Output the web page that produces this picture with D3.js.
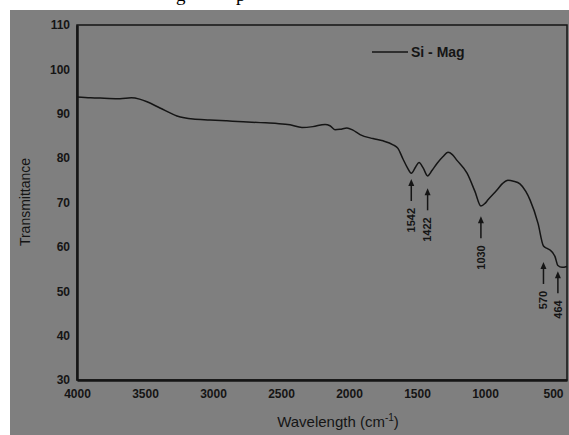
<!DOCTYPE html>
<html>
<head>
<meta charset="utf-8">
<script src="https://cdn.jsdelivr.net/npm/d3@7"></script>
<style>
  body { margin: 0; background: #fff; }
  svg { display: block; }
</style>
</head>
<body>
<svg id="chart" width="569" height="435"></svg>
<script>
// FTIR spectrum
const wavenumber = [4000, 3900, 3800, 3684, 3600, 3540, 3485, 3390, 3265, 3147, 3022, 2900, 2779, 2650,
  2529, 2434, 2346, 2265, 2176, 2140, 2103, 2066, 2015, 1971, 1919, 1824, 1750, 1676, 1640, 1603,
  1570, 1542, 1510, 1485, 1455, 1422, 1390, 1353, 1310, 1272, 1240, 1206, 1132, 1074, 1030, 1000,
  978, 912, 870, 831, 790, 743, 700, 669, 610, 570, 540, 522, 485, 464, 434, 397];
const transmittance = [93.8, 93.6, 93.5, 93.4, 93.6, 93.3, 92.7, 91.3, 89.5, 88.8, 88.6, 88.4, 88.2, 88.0,
  87.8, 87.5, 86.9, 87.1, 87.6, 87.3, 86.4, 86.5, 86.8, 86.3, 85.3, 84.4, 83.9, 83.0, 82.2, 79.8,
  77.8, 76.6, 78.0, 79.0, 77.8, 76.0, 77.2, 78.8, 80.3, 81.3, 80.8, 79.5, 76.6, 72.5, 69.2, 69.8,
  70.6, 72.8, 74.3, 75.0, 74.8, 74.2, 72.5, 70.6, 65.3, 60.2, 59.6, 59.3, 57.8, 55.8, 55.4, 55.6];

// peak annotations: label and arrow tip (transmittance)
const peakLabels = [1542, 1422, 1030, 570, 464];
const peakTips = [75.3, 73.2, 66.9, 56.6, 54.5];

const xTicks = [4000, 3500, 3000, 2500, 2000, 1500, 1000, 500];
const yTicks = [30, 40, 50, 60, 70, 80, 90, 100, 110];
const seriesName = "Si - Mag";

const svg = d3.select("#chart");
const ink = "#151515";
const font = "Liberation Sans, Arial, sans-serif";

// gray photo background with white cut-off edges
svg.append("rect").attr("x", 10).attr("y", 10).attr("width", 559).attr("height", 425).attr("fill", "#7f7f7f");
// cut-off caption descenders at the very top
svg.append("text").attr("x", 176).attr("y", 1).attr("font-family", "Liberation Serif, serif")
  .attr("font-size", 19).attr("fill", "#000").text("g");
svg.append("text").attr("x", 236).attr("y", 1).attr("font-family", "Liberation Serif, serif")
  .attr("font-size", 19).attr("fill", "#000").text("p");

const x = d3.scaleLinear().domain([4000, 397]).range([77, 567]);
const y = d3.scaleLinear().domain([30, 110]).range([380, 25]);

// frame
svg.append("rect").attr("x", 77).attr("y", 25).attr("width", 490).attr("height", 355)
  .attr("fill", "none").attr("stroke", ink).attr("stroke-width", 1.5);

const xAxis = svg.append("g").attr("transform", "translate(0,380)")
  .call(d3.axisBottom(x).tickValues(xTicks).tickFormat(d3.format("d")).tickSize(0).tickPadding(9));
const yAxis = svg.append("g").attr("transform", "translate(77,0)")
  .call(d3.axisLeft(y).tickValues(yTicks).tickSize(0).tickPadding(7));

[xAxis, yAxis].forEach(g => {
  g.select(".domain").attr("stroke", ink).attr("stroke-width", 2.5);
  g.selectAll("text").attr("font-family", font).attr("font-size", 12)
    .attr("font-weight", "bold").attr("fill", ink);
});

// axis titles
svg.append("text").attr("transform", "translate(30,202) rotate(-90)")
  .attr("text-anchor", "middle").attr("font-family", font).attr("font-size", 14).attr("fill", ink)
  .text("Transmittance");
const xt = svg.append("text").attr("x", 338).attr("y", 427).attr("text-anchor", "middle")
  .attr("font-family", font).attr("font-size", 15).attr("fill", ink);
xt.append("tspan").text("Wavelength (cm");
xt.append("tspan").attr("font-size", 10).attr("dy", -6).text("-1");
xt.append("tspan").attr("dy", 6).text(")");

// spectrum
const data = wavenumber.map((w, i) => ({w, t: transmittance[i]}));
svg.append("path").datum(data)
  .attr("fill", "none").attr("stroke", ink).attr("stroke-width", 1.5)
  .attr("d", d3.line().x(d => x(d.w)).y(d => y(d.t)).curve(d3.curveMonotoneX));

// legend
svg.append("line").attr("x1", 372).attr("x2", 408).attr("y1", 52).attr("y2", 52)
  .attr("stroke", ink).attr("stroke-width", 1.6);
svg.append("text").attr("x", 411).attr("y", 57).attr("font-family", font).attr("font-size", 14)
  .attr("font-weight", "bold").attr("fill", ink).text(seriesName);

// peak arrows
const arrowLen = 22;
const peaks = svg.append("g").selectAll("g").data(peakLabels).join("g")
  .attr("transform", (d, i) => `translate(${x(d)},${y(peakTips[i])})`);
peaks.append("line").attr("y1", 4).attr("y2", arrowLen).attr("stroke", ink).attr("stroke-width", 1.5);
peaks.append("path").attr("d", "M0,0L-3,7L3,7Z").attr("fill", ink);
peaks.append("text").attr("transform", `translate(0,${arrowLen + 7}) rotate(-90)`)
  .attr("text-anchor", "end").attr("dy", "0.35em").attr("font-family", font)
  .attr("font-size", 11).attr("font-weight", "bold").attr("fill", ink).text(d => d);
</script>
</body>
</html>
